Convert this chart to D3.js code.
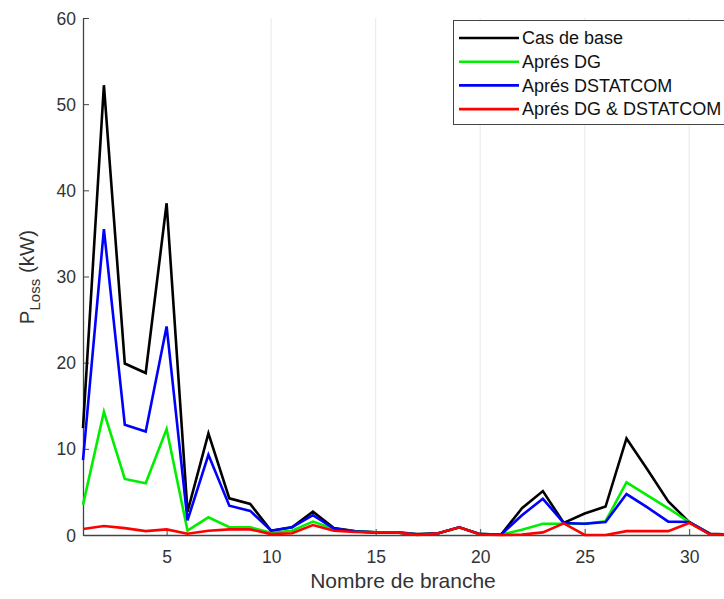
<!DOCTYPE html>
<html>
<head>
<meta charset="utf-8">
<script src="https://cdn.jsdelivr.net/npm/d3@7"></script>
<style>
  html, body { margin: 0; padding: 0; background: #fff; }
  svg { display: block; font-family: Arial, "Liberation Sans", sans-serif; }
</style>
</head>
<body>
<svg id="chart" width="724" height="599"></svg>
<script>
// Branch numbers of the 33-bus feeder
const branches = d3.range(1, 33);

// Active power loss per branch (kW)
const casDeBase = [12.4, 52.2, 19.9, 18.8, 38.5, 2.7, 11.8, 4.25, 3.6, 0.5, 0.9, 2.7, 0.8, 0.45, 0.3, 0.3, 0.1, 0.2, 0.9, 0.1,
                   0.05, 3.1, 5.1, 1.4, 2.5, 3.3, 11.2, 7.6, 3.9, 1.5, 0.15, 0.05];
const apresDG = [3.5, 14.3, 6.5, 6.0, 12.3, 0.5, 2.05, 0.9, 0.9, 0.27, 0.5, 1.55, 0.7, 0.4, 0.3, 0.3, 0.05, 0.2, 0.9, 0.1,
                 0.05, 0.6, 1.3, 1.3, 1.3, 1.6, 6.1, 4.6, 3.1, 1.5, 0.1, 0.05];
const apresDSTATCOM = [8.7, 35.5, 12.8, 12.0, 24.2, 1.7, 9.3, 3.4, 2.8, 0.5, 0.9, 2.3, 0.75, 0.4, 0.3, 0.3, 0.05, 0.2, 0.9, 0.1,
                       0.05, 2.3, 4.2, 1.4, 1.3, 1.5, 4.75, 3.2, 1.55, 1.5, 0.1, 0.05];
const apresDGDSTATCOM = [0.7, 1.05, 0.8, 0.45, 0.65, 0.15, 0.5, 0.65, 0.65, 0.1, 0.2, 1.15, 0.5, 0.35, 0.3, 0.3, 0.0, 0.2, 0.9, 0.05,
                         0.0, 0.05, 0.3, 1.35, 0.0, 0.0, 0.45, 0.45, 0.45, 1.4, 0.05, 0.05];

const seriesNames = ["Cas de base", "Aprés DG", "Aprés DSTATCOM", "Aprés DG & DSTATCOM"];
const seriesColors = ["#000000", "#00ee00", "#0000ff", "#ff0000"];
const seriesValues = [casDeBase, apresDG, apresDSTATCOM, apresDGDSTATCOM];

const xTicks = [5, 10, 15, 20, 25, 30];
const yTicks = [0, 10, 20, 30, 40, 50, 60];
const gridX = [10, 15, 20, 25, 30];

const svg = d3.select("#chart");
const textColor = "#333";
const axisColor = "#444";

const x = d3.scaleLinear().domain([1, 32]).range([83, 731]);
const y = d3.scaleLinear().domain([0, 60]).range([535, 18]);

// faint vertical grid
svg.append("g").selectAll("line").data(gridX).join("line")
  .attr("x1", d => x(d)).attr("x2", d => x(d))
  .attr("y1", y(60)).attr("y2", y(0))
  .attr("stroke", "#ececec").attr("stroke-width", 1.2);

// axes (ticks point inward)
const xAxis = svg.append("g").attr("transform", `translate(0,${y(0)})`)
  .call(d3.axisBottom(x).tickValues(xTicks).tickSizeInner(-6).tickSizeOuter(0).tickPadding(16).tickFormat(d3.format("d")));
const yAxis = svg.append("g").attr("transform", `translate(${x(1)},0)`)
  .call(d3.axisLeft(y).tickValues(yTicks).tickSizeInner(-6).tickSizeOuter(0).tickPadding(7).tickFormat(d3.format("d")));

[xAxis, yAxis].forEach(g => {
  g.select(".domain").attr("stroke", axisColor).attr("stroke-width", 1.3);
  g.selectAll(".tick line").attr("stroke", axisColor).attr("stroke-width", 1);
  g.selectAll(".tick text").attr("fill", textColor).attr("font-size", 17.5)
    .attr("font-family", "Arial, 'Liberation Sans', sans-serif");
});
yAxis.selectAll(".tick text").attr("dy", "0.35em");

// series lines
const line = d3.line().x((d, i) => x(branches[i])).y(d => y(d));
svg.append("g").selectAll("path").data(seriesValues).join("path")
  .attr("d", line)
  .attr("fill", "none")
  .attr("stroke", (d, i) => seriesColors[i])
  .attr("stroke-width", 2.6)
  .attr("stroke-linejoin", "miter");

// axis titles
svg.append("text")
  .attr("x", 403).attr("y", 588)
  .attr("text-anchor", "middle")
  .attr("font-size", 21).attr("fill", textColor)
  .text("Nombre de branche");

const yTitle = svg.append("text")
  .attr("transform", "translate(34,277) rotate(-90)")
  .attr("text-anchor", "middle")
  .attr("font-size", 20.5).attr("fill", textColor);
yTitle.append("tspan").text("P");
yTitle.append("tspan").attr("dy", 6).attr("font-size", 15).text("Loss");
yTitle.append("tspan").attr("dy", -6).text(" (kW)");

// legend
const legend = svg.append("g");
legend.append("rect")
  .attr("x", 453.5).attr("y", 20.5).attr("width", 290).attr("height", 104)
  .attr("fill", "#fff").attr("stroke", "#444").attr("stroke-width", 1);
const rows = legend.selectAll("g.row").data(seriesNames).join("g")
  .attr("class", "row")
  .attr("transform", (d, i) => `translate(0,${38 + i * 23.7})`);
rows.append("line")
  .attr("x1", 459).attr("x2", 519).attr("y1", 0).attr("y2", 0)
  .attr("stroke", (d, i) => seriesColors[i]).attr("stroke-width", 2.6);
rows.append("text")
  .attr("x", 522).attr("y", 0).attr("dy", "0.35em")
  .attr("font-size", 18).attr("fill", "#111")
  .text(d => d);
</script>
</body>
</html>
